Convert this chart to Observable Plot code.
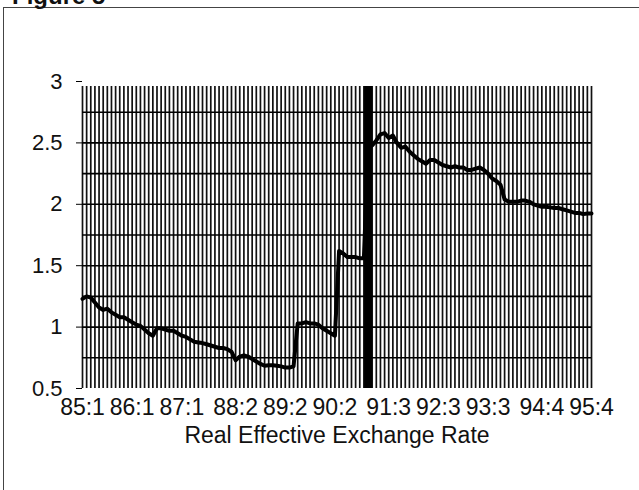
<!DOCTYPE html>
<html>
<head>
<meta charset="utf-8">
<script src="https://cdn.jsdelivr.net/npm/d3@7"></script>
<script src="https://cdn.jsdelivr.net/npm/@observablehq/plot@0.6"></script>
<style>
  html, body { margin: 0; padding: 0; background: #fff; }
  body { width: 639px; height: 490px; position: relative; overflow: hidden; font-family: Arial, "Liberation Sans", sans-serif; }
  #frame { position: absolute; left: 3px; top: 7px; width: 700px; height: 600px; border-left: 1px solid #444; border-top: 1px solid #444; }
  #fig { position: absolute; left: 12px; top: -16px; font-size: 24px; line-height: 24px; font-weight: bold; color: #111; }
  #chart { position: absolute; left: 0; top: 0; }
</style>
</head>
<body>
<div id="frame"></div>
<div id="fig">Figure 5</div>
<div id="chart"></div>
<script>
// Monthly data, 85:1 .. 95:4 (124 months)
const firstLabel = "85:1";
const values = [
  1.23, 1.25, 1.24, 1.20, 1.16, 1.14, 1.15, 1.12, 1.10, 1.08, 1.08, 1.06, 1.04,
  1.02, 1.01, 0.98, 0.95, 0.93, 0.99, 0.99, 0.98, 0.97, 0.97, 0.95, 0.93, 0.92,
  0.90, 0.88, 0.875, 0.87, 0.86, 0.85, 0.84, 0.83, 0.83, 0.82, 0.80, 0.73,
  0.76, 0.77, 0.76, 0.74, 0.72, 0.70, 0.685, 0.69, 0.69, 0.685, 0.68, 0.67, 0.67, 0.68,
  1.03, 1.03, 1.04, 1.03, 1.03, 1.02, 0.99, 0.97, 0.95, 0.93,
  1.62, 1.60, 1.57, 1.57, 1.57, 1.56, 1.56,
  2.45, 2.48, 2.52, 2.57, 2.58, 2.54, 2.56, 2.50, 2.46, 2.47, 2.43, 2.40, 2.37, 2.35, 2.33,
  2.36, 2.36, 2.34, 2.32, 2.31, 2.30, 2.31, 2.30, 2.30, 2.28, 2.28, 2.29, 2.30, 2.28,
  2.25, 2.21, 2.19, 2.16, 2.04, 2.02, 2.02, 2.02, 2.03, 2.03, 2.02, 2.00, 1.99, 1.98,
  1.98, 1.975, 1.97, 1.97, 1.96, 1.95, 1.94, 1.93, 1.93, 1.92, 1.925, 1.925
];
const tickLabels = ["85:1","86:1","87:1","88:2","89:2","90:2","91:3","92:3","93:3","94:4","95:4"];
const yTicks = [0.5, 1, 1.5, 2, 2.5, 3];
const yGrid = [0.75, 1, 1.25, 1.5, 1.75, 2, 2.25, 2.5, 2.75];
const markerLabel = "90:10";
const xTitle = "Real Effective Exchange Rate";

const labelIndex = s => { const [y, m] = s.split(":").map(Number); const [y0, m0] = firstLabel.split(":").map(Number); return (y - y0) * 12 + (m - m0); };
const data = values.map((v, i) => ({i, v}));
const months = data.map(d => d.i);
const tickIdx = tickLabels.map(labelIndex);
const tickMap = new Map(tickIdx.map((k, j) => [k, tickLabels[j]]));
const n = values.length - 1;

const chart = Plot.plot({
  width: 639,
  height: 490,
  marginLeft: 82,
  marginRight: 48,
  marginTop: 81,
  marginBottom: 102,
  style: {fontFamily: "Arial, 'Liberation Sans', sans-serif", background: "transparent", color: "#111"},
  x: {domain: [0, n], axis: null},
  y: {domain: [yTicks[0], yTicks[yTicks.length - 1]], axis: null},
  marks: [
    Plot.ruleX(months, {x: d => d, y1: yTicks[0], y2: yTicks[yTicks.length - 1], stroke: "#111", strokeWidth: 1.7, insetBottom: -5}),
    Plot.ruleY(yGrid, {y: d => d, x1: 0, x2: n, stroke: "#000", strokeWidth: 1.6}),
    Plot.axisY({ticks: yTicks, tickSize: 6, tickPadding: 14, fontSize: 22, tickFormat: d => String(d), stroke: "#000", label: null}),
    Plot.axisX({ticks: tickIdx, tickSize: 0, tickPadding: 10, fontSize: 23, tickFormat: d => tickMap.get(d), label: null}),
    Plot.text([xTitle], {frameAnchor: "bottom", text: d => d, dy: 54, lineAnchor: "bottom", fontSize: 23, fill: "#111"}),
    Plot.ruleX([labelIndex(markerLabel)], {x: d => d, y1: yTicks[0], y2: yTicks[yTicks.length - 1], stroke: "#000", strokeWidth: 8, insetBottom: -5}),
    Plot.line(data, {x: "i", y: "v", stroke: "#000", strokeWidth: 4, strokeLinejoin: "round", curve: "linear"})
  ]
});
document.getElementById("chart").appendChild(chart);
</script>
</body>
</html>
